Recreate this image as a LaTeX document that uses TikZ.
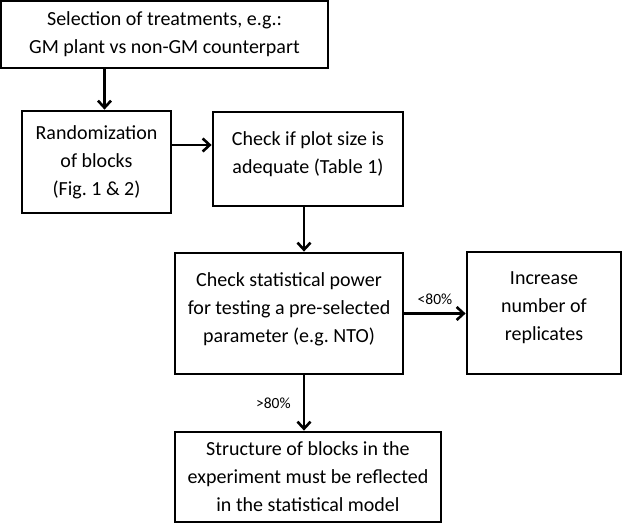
\documentclass[tikz,border=0pt]{standalone}
\usepackage{fontspec}
\setmainfont{Carlito}
\frenchspacing
\usetikzlibrary{positioning,arrows,arrows.meta}
\tikzset{%
box/.style={draw,rectangle,line width=2.8pt,align=center,inner sep=0pt,font=\fontsize{20}{28}\selectfont},
arr/.style={line width=2.8pt,-{Straight Barb[length=7pt,width=13pt,line width=2.6pt]}},
pct/.style={font=\fontsize{15.5}{18}\selectfont,inner sep=7pt}
}

\begin{document}
\begin{tikzpicture}[x=1pt,y=-1pt]
    \useasboundingbox (0,0) rectangle (622,524);

    \node[box,minimum width=327pt,minimum height=67pt] (sel) at (164.5,34.5)
        {Selection of treatments, e.g.:\\GM plant vs non-GM counterpart};
    \node[box,minimum width=149pt,minimum height=102pt] (rand) at (96.5,162)
        {Randomization\\of blocks\\(Fig. 1 \& 2)};
    \node[box,minimum width=190pt,minimum height=94pt] (plot) at (308,159)
        {Check if plot size is\\adequate (Table 1)\\[-16pt]\mbox{}};
    \node[box,minimum width=228pt,minimum height=121pt] (power) at (289,313.5)
        {Check statistical power\\for testing a pre-selected\\parameter (e.g. NTO)\\[-16pt]\mbox{}};
    \node[box,minimum width=154pt,minimum height=122pt] (incr) at (544,313)
        {Increase\\number of\\replicates\\[-14pt]\mbox{}};
    \node[box,minimum width=266pt,minimum height=90pt] (struct) at (308,477)
        {Structure of blocks in the\\experiment must be reflected\\in the statistical model};

    \coordinate (randin) at ([xshift=8pt]rand.north);
    \coordinate (plotin) at ([yshift=14pt]plot.west);
    \coordinate (plotout) at ([xshift=-4pt]plot.south);

    \draw[arr] (sel.south -| randin) -- (randin);
    \draw[arr] (rand.east |- plotin) -- (plotin);
    \draw[arr] (plotout) -- (plotout |- power.north);
    \draw[arr] (power.east) -- node[pct,above]{<80\%} (power.east -| incr.west);
    \draw[arr] (power.south -| plotout) -- node[pct,left,inner xsep=12pt]{>80\%} (struct.north -| plotout);
\end{tikzpicture}
\end{document}
